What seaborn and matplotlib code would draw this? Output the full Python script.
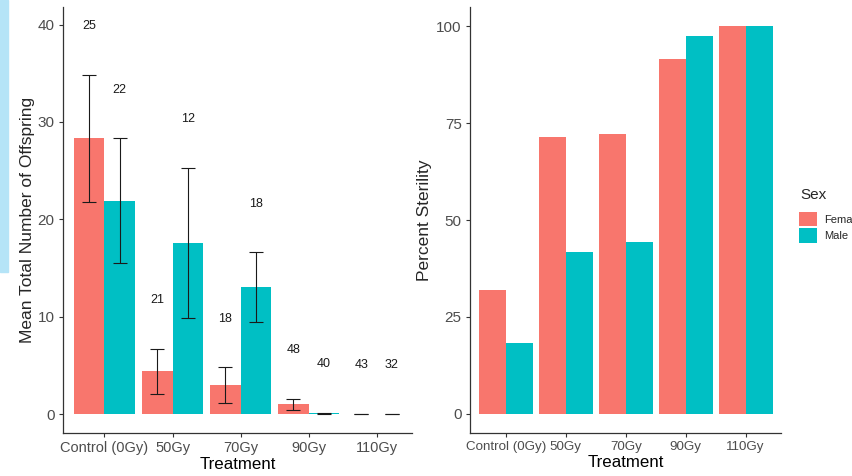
import pandas as pd
import matplotlib
matplotlib.use("Agg")
import matplotlib.pyplot as plt
import seaborn as sns
from matplotlib.patches import Patch, Rectangle

treatments = ["Control (0Gy)", "50Gy", "70Gy", "90Gy", "110Gy"]
sexes = ["Female", "Male"]

female_mean = [28.3, 4.45, 2.95, 1.03, 0.0]
male_mean = [21.9, 17.55, 13.0, 0.08, 0.0]
female_lo = [21.8, 2.05, 1.1, 0.38, 0.0]
female_hi = [34.8, 6.7, 4.8, 1.57, 0.0]
male_lo = [15.5, 9.9, 9.4, 0.0, 0.0]
male_hi = [28.3, 25.3, 16.6, 0.15, 0.0]
female_n = [25, 21, 18, 48, 43]
male_n = [22, 12, 18, 40, 32]

female_sterility = [32.0, 71.4, 72.2, 91.7, 100.0]
male_sterility = [18.2, 41.7, 44.4, 97.5, 100.0]

colors = {"Female": "#F8766D", "Male": "#00BFC4"}


def build_frame():
    rows = []
    for i, t in enumerate(treatments):
        rows.append(("Female", t, female_mean[i], female_lo[i], female_hi[i],
                     female_n[i], female_sterility[i]))
        rows.append(("Male", t, male_mean[i], male_lo[i], male_hi[i],
                     male_n[i], male_sterility[i]))
    return pd.DataFrame(rows, columns=["Sex", "Treatment", "mean", "lo", "hi",
                                       "n", "sterility"])


def style_axis(ax, xsize):
    sns.despine(ax=ax)
    for side in ["left", "bottom"]:
        ax.spines[side].set_color("#333333")
        ax.spines[side].set_linewidth(0.9)
    ax.tick_params(axis="both", length=3, width=0.8, color="#333333",
                   labelcolor="#4D4D4D", pad=3)
    ax.tick_params(axis="x", labelsize=xsize)
    ax.tick_params(axis="y", labelsize=11)
    ax.set_xlabel("Treatment", fontsize=12.2, labelpad=1, color="black")


sns.set_theme(style="ticks")
plt.rcParams["font.family"] = ["Liberation Sans", "DejaVu Sans"]

df = build_frame()
W, H = 853, 476
fig = plt.figure(figsize=(W / 100, H / 100), dpi=100)

# stray highlight strip at the left edge of the original screenshot
fig.patches.append(Rectangle((0, 1 - 272 / H), 8 / W, 272 / H,
                             transform=fig.transFigure, color="#b5e4f7",
                             zorder=0))

ax1 = fig.add_axes([63 / W, (H - 433) / H, 349 / W, 426 / H])
ax2 = fig.add_axes([470 / W, (H - 433) / H, 311 / W, 426 / H])

# left: mean offspring with error bars and n labels
sns.barplot(data=df, x="Treatment", y="mean", hue="Sex", order=treatments,
            hue_order=sexes, palette=colors, width=0.9, saturation=1,
            errorbar=None, linewidth=0, legend=False, ax=ax1)

for sex, cont in zip(sexes, ax1.containers):
    sub = df[df["Sex"] == sex].set_index("Treatment").loc[treatments]
    xs = [b.get_x() + b.get_width() / 2 for b in cont]
    ax1.errorbar(xs, sub["mean"],
                 yerr=[sub["mean"] - sub["lo"], sub["hi"] - sub["mean"]],
                 fmt="none", ecolor="#1a1a1a", elinewidth=0.8, capsize=4.9,
                 capthick=0.8, zorder=3)
    for x, hi, n in zip(xs, sub["hi"], sub["n"]):
        ax1.text(x, hi + 5, str(n), ha="center", va="center", fontsize=9,
                 color="#1a1a1a")

ax1.set_xlim(-0.61, 4.52)
ax1.set_ylim(-1.95, 41.8)
ax1.set_yticks([0, 10, 20, 30, 40])
ax1.set_ylabel("Mean Total Number of Offspring", fontsize=12.5, labelpad=2)
style_axis(ax1, 10.5)

# right: percent sterility
sns.barplot(data=df, x="Treatment", y="sterility", hue="Sex",
            order=treatments, hue_order=sexes, palette=colors, width=0.9,
            saturation=1, errorbar=None, linewidth=0, legend=False, ax=ax2)
ax2.set_xlim(-0.6, 4.59)
ax2.set_ylim(-5, 105)
ax2.set_yticks([0, 25, 50, 75, 100])
ax2.set_ylabel("Percent Sterility", fontsize=12.5, labelpad=3)
style_axis(ax2, 9.6)

# legend, partly cut off at the right edge like the original
fig.text(800 / W, 1 - 195 / H, "Sex", fontsize=11, va="center", ha="left")
handles = [Patch(facecolor=colors[s], edgecolor="none") for s in sexes]
fig.legend(handles, sexes, loc="upper left",
           bbox_to_anchor=(799 / W, 1 - 212 / H), frameon=False,
           borderpad=0, borderaxespad=0, fontsize=8, handlelength=1.6,
           handleheight=1.6, labelspacing=0.18, handletextpad=0.7)

fig.savefig("out.png", dpi=100)
